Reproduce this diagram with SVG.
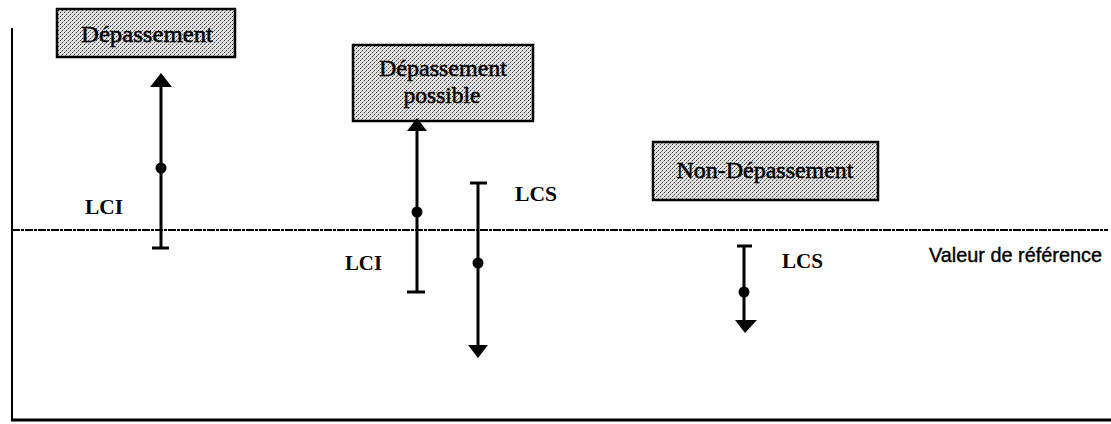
<svg xmlns="http://www.w3.org/2000/svg" width="1111" height="424" viewBox="0 0 1111 424">
<style>
.box{fill:url(#stip);stroke:#000;stroke-width:2.5}
.bt{font-family:"Liberation Serif","Times New Roman",serif;font-size:24px;fill:#000;stroke:#000;stroke-width:0.5;text-anchor:middle}
.lab{font-family:"Liberation Serif","Times New Roman",serif;font-size:21px;font-weight:bold;fill:#000}
.ref{font-family:"Liberation Sans",Arial,sans-serif;font-size:21px;fill:#000;stroke:#000;stroke-width:0.4}
.bar{stroke:#000;stroke-width:3;fill:none}
.tick{stroke:#000;stroke-width:3;fill:none}
.axis{stroke:#000;fill:none}
</style>
<defs>
<pattern id="stip" width="4" height="4" patternUnits="userSpaceOnUse">
<rect width="4" height="4" fill="#e4e4e4"/>
<rect x="0" y="0" width="1" height="1" fill="#333"/>
<rect x="2" y="2" width="1" height="1" fill="#333"/>
<rect x="1" y="3" width="1" height="1" fill="#888"/>
<rect x="3" y="1" width="1" height="1" fill="#aaa"/>
</pattern>
</defs>
<rect width="1111" height="424" fill="#fff"/>

<g id="axes">
<line class="axis" x1="12" y1="28" x2="12" y2="421" stroke-width="2"/>
<line class="axis" x1="11" y1="420" x2="1111" y2="420" stroke-width="3"/>
<line class="axis" x1="12" y1="230" x2="1108" y2="230" stroke-width="2" stroke="#111" stroke-dasharray="8 1 3 1"/>
</g>

<g id="node-depassement">
<rect class="box" x="57" y="9" width="178" height="48"/>
<text class="bt" x="147" y="42" textLength="132" lengthAdjust="spacingAndGlyphs">Dépassement</text>
</g>
<g id="node-depassement-possible">
<rect class="box" x="353" y="45" width="180" height="76"/>
<text class="bt" x="443" y="76" textLength="128" lengthAdjust="spacingAndGlyphs">Dépassement</text>
<text class="bt" x="442" y="103" textLength="77" lengthAdjust="spacingAndGlyphs">possible</text>
</g>
<g id="node-non-depassement">
<rect class="box" x="653" y="142" width="225" height="58"/>
<text class="bt" x="765" y="178" textLength="177" lengthAdjust="spacingAndGlyphs">Non-Dépassement</text>
</g>

<g id="connectors">
<!-- interval 1 -->
<line class="bar" x1="161" y1="84" x2="161" y2="248"/>
<polygon points="161,73 150,87 172,87" fill="#000"/>
<line class="tick" x1="152" y1="248" x2="169" y2="248"/>
<circle cx="161" cy="168" r="5.5" fill="#000"/>
<!-- interval 2 -->
<line class="bar" x1="417" y1="128" x2="417" y2="292"/>
<polygon points="417,118 407,131 427,131" fill="#000"/>
<line class="tick" x1="407" y1="292" x2="425" y2="292"/>
<circle cx="417" cy="212" r="5.5" fill="#000"/>
<!-- interval 3 -->
<line class="bar" x1="478" y1="183" x2="478" y2="347"/>
<line class="tick" x1="470" y1="183" x2="487" y2="183"/>
<polygon points="478,358 468,345 488,345" fill="#000"/>
<circle cx="478" cy="263" r="5.5" fill="#000"/>
<!-- interval 4 -->
<line class="bar" x1="744" y1="246" x2="744" y2="322"/>
<line class="tick" x1="737" y1="246" x2="752" y2="246"/>
<polygon points="745,333 735,320 757,320" fill="#000"/>
<circle cx="744" cy="292" r="5.5" fill="#000"/>
</g>

<g id="labels">
<text class="lab" x="85" y="214" textLength="38" lengthAdjust="spacingAndGlyphs">LCI</text>
<text class="lab" x="345" y="270" textLength="37" lengthAdjust="spacingAndGlyphs">LCI</text>
<text class="lab" x="515" y="201" textLength="42" lengthAdjust="spacingAndGlyphs">LCS</text>
<text class="lab" x="782" y="268" textLength="41" lengthAdjust="spacingAndGlyphs">LCS</text>
<text class="ref" x="929" y="262" textLength="173" lengthAdjust="spacingAndGlyphs">Valeur de référence</text>
</g>
</svg>
